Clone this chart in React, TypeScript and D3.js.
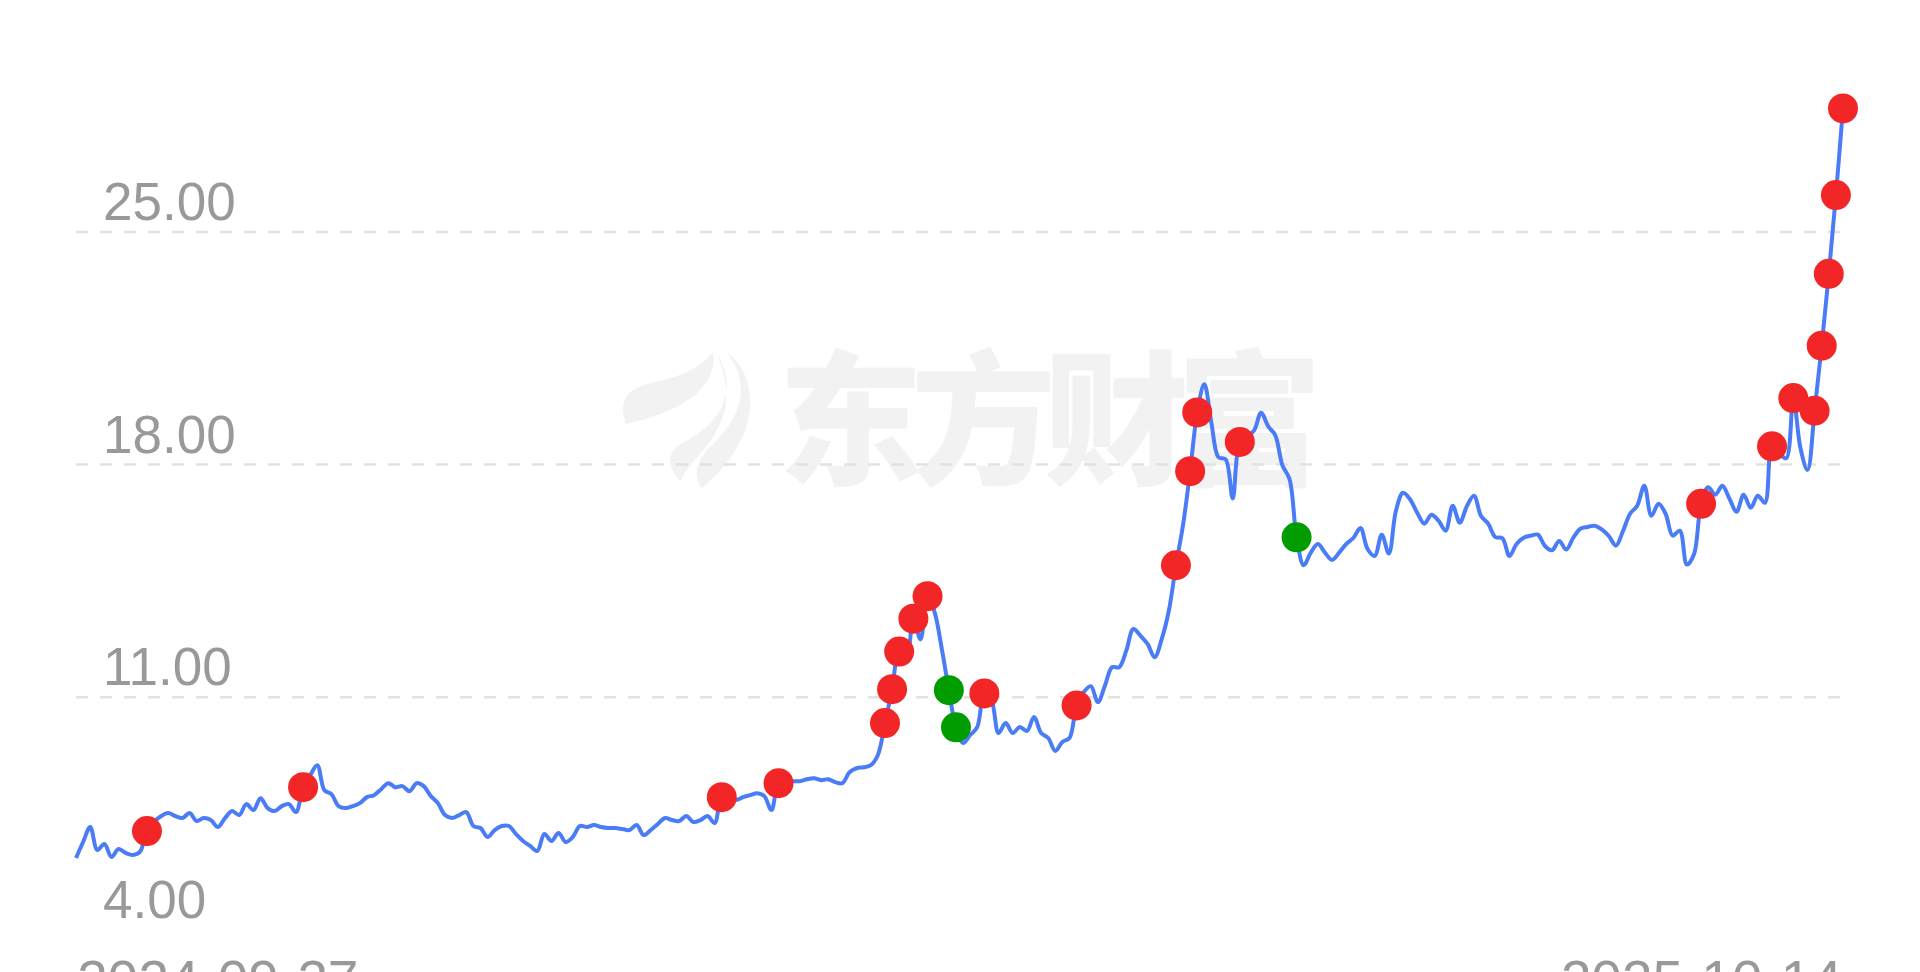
import React, { useRef, useEffect } from 'react'
import * as d3 from 'd3'

// first and last trading day shown under the chart
const dateLabels = ['2024-09-27', '2025-10-14']
const yTicks = [4, 11, 18, 25]

// daily close
const prices = [
  6.16, 6.64, 7.09, 6.4, 6.58, 6.19, 6.43, 6.31, 6.25, 6.34,
  6.97, 7.24, 7.42, 7.51, 7.42, 7.36, 7.51, 7.27, 7.36, 7.3,
  7.09, 7.36, 7.57, 7.45, 7.78, 7.6, 7.96, 7.66, 7.57, 7.72,
  7.78, 7.54, 8.29, 8.65, 8.95, 8.2, 8.08, 7.72, 7.66, 7.72,
  7.81, 7.99, 8.05, 8.23, 8.41, 8.29, 8.32, 8.17, 8.41, 8.32,
  8.02, 7.81, 7.45, 7.36, 7.45, 7.54, 7.12, 7.06, 6.79, 7.0,
  7.12, 7.12, 6.88, 6.67, 6.52, 6.37, 6.88, 6.67, 6.91, 6.64,
  6.79, 7.12, 7.09, 7.15, 7.09, 7.06, 7.06, 7.03, 7.0, 7.15,
  6.85, 7.0, 7.18, 7.36, 7.3, 7.27, 7.42, 7.24, 7.3, 7.42,
  7.21, 7.99, 7.93, 7.9, 7.99, 8.05, 8.11, 8.02, 7.6, 8.41,
  8.47, 8.47, 8.47, 8.53, 8.56, 8.5, 8.53, 8.44, 8.41, 8.74,
  8.86, 8.89, 8.95, 9.26, 10.22, 11.24, 12.37, 12.15, 13.36, 12.74,
  14.04, 13.55, 12.46, 11.21, 10.09, 9.62, 9.86, 10.1, 11.11, 10.91,
  9.92, 10.22, 9.92, 10.1, 9.98, 10.4, 9.92, 9.77, 9.38, 9.65,
  9.77, 10.75, 11.15, 11.33, 10.85, 11.35, 11.9, 11.9, 12.4, 13.05,
  12.85, 12.6, 12.2, 12.75, 13.6, 14.97, 16.18, 17.8, 19.57, 20.42,
  19.25, 18.22, 18.16, 16.98, 18.68, 18.85, 19.02, 19.56, 19.15, 18.88,
  17.98, 17.57, 15.81, 14.97, 15.35, 15.61, 15.35, 15.13, 15.35, 15.61,
  15.79, 16.09, 15.46, 15.25, 15.89, 15.32, 16.61, 17.15, 16.95, 16.55,
  16.22, 16.49, 16.31, 16.01, 16.76, 16.25, 16.75, 17.06, 16.45, 16.22,
  15.82, 15.78, 15.25, 15.61, 15.8, 15.86, 15.89, 15.55, 15.42, 15.7,
  15.44, 15.8, 16.07, 16.12, 16.16, 16.05, 15.85, 15.56, 16.0, 16.52,
  16.76, 17.36, 16.46, 16.82, 16.52, 15.86, 16.01, 14.99, 15.3, 16.82,
  17.32, 17.09, 17.36, 16.97, 16.58, 17.09, 16.7, 17.06, 16.85, 18.55,
  18.35, 18.19, 20.0, 18.5, 17.84, 19.62, 21.58, 23.74, 26.11, 28.72,
]

// indexes of the days marked with a dot
const limitUpDays = [10, 32, 91, 99, 114, 115, 116, 118, 120, 128, 141, 155, 157, 158, 164, 229, 239, 242, 245, 246, 247, 248, 249]
const limitDownDays = [123, 124, 172]

const width = 1920
const height = 972
const margin = { left: 76, right: 77 }

const PriceChart = () => {
  const svgRef = useRef<SVGSVGElement>(null)

  useEffect(() => {
    const svg = d3.select(svgRef.current)

    const xScale = d3
      .scaleLinear()
      .domain([0, prices.length - 1])
      .range([margin.left, width - margin.right])

    const yScale = d3.scaleLinear().domain([4, 25]).range([929.7, 232])

    // dashed grid, the bottom one is not drawn
    svg
      .select('.grid')
      .selectAll('line')
      .data(yTicks.slice(1))
      .join('line')
      .attr('x1', margin.left)
      .attr('x2', width - margin.right)
      .attr('y1', (d) => yScale(d))
      .attr('y2', (d) => yScale(d))
      .attr('stroke', '#e2e2e2')
      .attr('stroke-width', 2.5)
      .attr('stroke-dasharray', '12 12')

    svg
      .select('.y-labels')
      .selectAll('text')
      .data(yTicks)
      .join('text')
      .attr('x', 103)
      .attr('y', (d) => yScale(d) - 12)
      .attr('fill', '#999')
      .attr('font-size', 53)
      .attr('font-family', '"Liberation Sans", Arial, sans-serif')
      .text((d) => d.toFixed(2))

    // dates sit mostly below the visible area, as in the source
    svg
      .select('.x-labels')
      .selectAll('text')
      .data(dateLabels)
      .join('text')
      .attr('x', (d, i) => (i === 0 ? xScale(0) + 1 : xScale(prices.length - 1) - 1))
      .attr('y', 999)
      .attr('text-anchor', (d, i) => (i === 0 ? 'start' : 'end'))
      .attr('fill', '#999')
      .attr('font-size', 55)
      .attr('font-family', '"Liberation Sans", Arial, sans-serif')
      .text((d) => d)

    const line = d3
      .line<number>()
      .x((d, i) => xScale(i))
      .y((d) => yScale(d))
      .curve(d3.curveCatmullRom.alpha(0.5))

    svg
      .select('.price-line')
      .attr('d', line(prices))
      .attr('fill', 'none')
      .attr('stroke', '#4a7cf6')
      .attr('stroke-width', 4)
      .attr('stroke-linejoin', 'round')

    const dots = [
      ...limitUpDays.map((i) => ({ i, color: '#f22626' })),
      ...limitDownDays.map((i) => ({ i, color: '#009c00' })),
    ]

    svg
      .select('.dots')
      .selectAll('circle')
      .data(dots)
      .join('circle')
      .attr('cx', (d) => xScale(d.i))
      .attr('cy', (d) => yScale(prices[d.i]))
      .attr('r', 15)
      .attr('fill', (d) => d.color)
  }, [])

  return (
    <svg
      ref={svgRef}
      width={width}
      height={height}
      style={{ position: 'absolute', left: 0, top: 0, display: 'block', background: '#fff' }}>
      <g className="watermark" fill="#f2f2f2">
        <path d="M626,424 C618,398 626,388 660,381 C690,374 706,362 713,352 C718,385 688,410 626,424 Z" />
        <path d="M717,354 C738,388 724,422 684,442 C664,452 668,470 681,481 C692,452 748,428 717,354 Z" />
        <path d="M727,352 C764,382 758,442 702,488 C690,472 700,456 716,441 C746,410 748,381 727,352 Z" />
        <text
          x={778}
          y={474}
          fontSize={145}
          fontWeight={900}
          letterSpacing={-12}
          fontFamily='"Noto Sans CJK SC", sans-serif'>
          东方财富
        </text>
      </g>
      <g className="grid" />
      <g className="y-labels" />
      <g className="x-labels" />
      <path className="price-line" />
      <g className="dots" />
    </svg>
  )
}

export default function App() {
  return <PriceChart />
}
